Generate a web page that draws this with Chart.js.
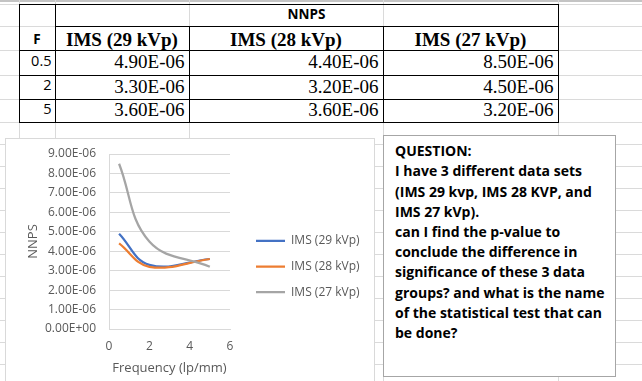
<!DOCTYPE html>
<html>
<head>
<meta charset="utf-8">
<script src="https://cdn.jsdelivr.net/npm/chart.js@4.4.1/dist/chart.umd.min.js"></script>
<style>
html,body{margin:0;padding:0;background:#fff;width:642px;height:381px;overflow:hidden;position:relative;font-family:'Open Sans',sans-serif;}
.gh{position:absolute;left:0;width:642px;height:1px;background:#dadada;}
.gv{position:absolute;top:0;height:381px;width:1px;background:#dadada;}
.bl{position:absolute;background:#000;}
.t{position:absolute;white-space:nowrap;line-height:1;color:#000;}
.serif{font-family:'Liberation Serif','Times New Roman',serif;font-size:19px;height:19px;}
.hdr{font-weight:bold;text-align:center;}
.num{text-align:right;}
.sans{font-family:'Open Sans',sans-serif;}
#chartBox{position:absolute;left:5px;top:138px;width:370px;height:260px;box-sizing:border-box;border:1px solid #d9d9d9;background:#fff;}
#cv{position:absolute;left:5px;top:138px;}
#note{position:absolute;left:383px;top:135px;width:233px;height:242px;box-sizing:border-box;border:1px solid #a6a6a6;background:#fff;
  font-family:'Open Sans',sans-serif;font-weight:bold;font-size:14px;line-height:20.2px;padding:5.2px 0 0 11px;white-space:nowrap;color:#000;}
#topband{position:absolute;left:0;top:0;width:642px;height:2px;background:#c4c4c4;}
</style>
</head>
<body>
<div id="topband"></div>
<div id="grid"></div>
<div id="table"></div>
<div id="chartBox"></div>
<canvas id="cv" width="600" height="243"></canvas>
<div id="note">QUESTION:<br>I have 3 different data sets<br>(IMS 29 kvp, IMS 28 KVP, and<br>IMS 27 kVp).<br>can I find the p-value to<br>conclude the difference in<br>significance of these 3 data<br>groups? and what is the name<br>of the statistical test that can<br>be done?</div>
<script>
// ---------------- data ----------------
const frequencies = [0.5, 2, 5];
const ims29 = [4.9e-6, 3.3e-6, 3.6e-6];
const ims28 = [4.4e-6, 3.2e-6, 3.6e-6];
const ims27 = [8.5e-6, 4.5e-6, 3.2e-6];
const seriesLabels = ['IMS (29 kVp)', 'IMS (28 kVp)', 'IMS (27 kVp)'];
const tableTitle = 'NNPS';
const firstColHeader = 'F';
const xAxisTitle = 'Frequency (lp/mm)';
const yAxisTitle = 'NNPS';
const xTickStep = 2;
const yTickStep = 1e-6;

// ---------------- helpers ----------------
function fmtE(v){
  const s = Number(v).toExponential(2);
  const [m, e] = s.split('e');
  const sign = e[0] === '-' ? '-' : '+';
  const digits = e.replace(/[+-]/, '').padStart(2, '0');
  return m + 'E' + sign + digits;
}

// ---------------- spreadsheet grid (layout) ----------------
const gridRows = [4, 26, 50, 75, 99, 122, 144, 166, 188, 210, 232, 254, 276, 298, 320, 342, 364];
const gridCols = [19, 55, 189, 383, 558];
const grid = document.getElementById('grid');
gridRows.forEach(y => { const d = document.createElement('div'); d.className = 'gh'; d.style.top = y + 'px'; grid.appendChild(d); });
gridCols.forEach(x => { const d = document.createElement('div'); d.className = 'gv'; d.style.left = x + 'px'; grid.appendChild(d); });

// ---------------- table ----------------
const tbl = document.getElementById('table');
const colEdges = [19, 55, 189, 383, 558];
const rowEdges = [4, 26, 50, 75, 99, 122];
function line(x, y, w, h){ const d = document.createElement('div'); d.className = 'bl'; Object.assign(d.style, {left: x + 'px', top: y + 'px', width: w + 'px', height: h + 'px'}); tbl.appendChild(d); }
line(colEdges[0], rowEdges[0], colEdges[4] - colEdges[0] + 1, 1);
line(colEdges[1], rowEdges[1], colEdges[4] - colEdges[1] + 1, 1);
for (let r = 2; r < rowEdges.length; r++) line(colEdges[0], rowEdges[r], colEdges[4] - colEdges[0] + 1, 1);
line(colEdges[0], rowEdges[0], 1, rowEdges[5] - rowEdges[0] + 1);
line(colEdges[1], rowEdges[0], 1, rowEdges[5] - rowEdges[0] + 1);
line(colEdges[2], rowEdges[1], 1, rowEdges[5] - rowEdges[1] + 1);
line(colEdges[3], rowEdges[1], 1, rowEdges[5] - rowEdges[1] + 1);
line(colEdges[4], rowEdges[0], 1, rowEdges[5] - rowEdges[0] + 1);

function txt(text, cls, style){ const d = document.createElement('div'); d.className = 't ' + cls; d.textContent = text; Object.assign(d.style, style); tbl.appendChild(d); return d; }
txt(tableTitle, 'sans', {left: colEdges[1] + 'px', width: (colEdges[4] - colEdges[1]) + 'px', top: '8.2px', fontSize: '13.5px', fontWeight: 'bold', textAlign: 'center'});
txt(firstColHeader, 'sans', {left: colEdges[0] + 'px', width: (colEdges[1] - colEdges[0]) + 'px', top: '33.2px', fontSize: '13.5px', fontWeight: 'bold', textAlign: 'center'});
seriesLabels.forEach((lab, i) => {
  txt(lab, 'serif hdr', {left: colEdges[i + 1] + 'px', width: (colEdges[i + 2] - colEdges[i + 1]) + 'px', top: '30.1px'});
});
const series = [ims29, ims28, ims27];
const dataTops = [52.1, 76.6, 100.1];
const fTops = [54.0, 78.0, 102.3];
frequencies.forEach((f, r) => {
  txt(String(f), 'sans num', {left: colEdges[0] + 'px', width: (colEdges[1] - colEdges[0] - 3.5) + 'px', top: fTops[r] + 'px', fontSize: '14.5px'});
  series.forEach((s, c) => {
    txt(fmtE(s[r]), 'serif num', {left: colEdges[c + 1] + 'px', width: (colEdges[c + 2] - colEdges[c + 1] - 4.5) + 'px', top: dataTops[r] + 'px'});
  });
});

// ---------------- chart ----------------
Chart.defaults.font.family = "'Open Sans', sans-serif";
Chart.defaults.color = '#595959';
const colors = ['#4472C4', '#ED7D31', '#A5A5A5'];
const toPts = ys => frequencies.map((x, i) => ({x: x, y: ys[i]}));
const drawOrder = [2, 1, 0];
const CANVAS_W = 600, PLOT_RIGHT = 225, LEGEND_ITEM_X = 251;

const legendShift = {
  id: 'legendShift',
  afterLayout(chart){
    const lg = chart.legend;
    if (!lg) return;
    const dx = LEGEND_ITEM_X - (lg.left + lg.options.labels.padding);
    lg.left += dx; lg.right += dx;
  }
};

new Chart(document.getElementById('cv'), {
  type: 'scatter',
  data: {
    datasets: series.map((s, i) => ({
      label: seriesLabels[i],
      data: toPts(s),
      showLine: true,
      borderColor: colors[i],
      backgroundColor: colors[i],
      borderWidth: 2.25,
      tension: 0.4,
      pointRadius: 0,
      pointHoverRadius: 0,
      order: drawOrder[i]
    }))
  },
  options: {
    responsive: false,
    animation: false,
    events: [],
    layout: {padding: {left: 0, top: 16, right: 0, bottom: 2}},
    plugins: {
      tooltip: {enabled: false},
      legend: {
        position: 'right',
        align: 'center',
        labels: {
          usePointStyle: true,
          pointStyle: 'line',
          pointStyleWidth: 29,
          boxHeight: 12,
          padding: 13.6,
          color: '#595959',
          font: {size: 12},
          sort: (a, b) => a.datasetIndex - b.datasetIndex
        }
      }
    },
    scales: {
      x: {
        type: 'linear', min: 0, max: 6,
        ticks: {stepSize: xTickStep, padding: 10.5, color: '#595959', font: {size: 12}},
        grid: {display: false, drawTicks: false},
        border: {display: true, color: '#d9d9d9', width: 1},
        title: {display: true, text: xAxisTitle, color: '#595959', font: {size: 13}, padding: {top: 0, bottom: 3.2}},
        afterFit: s => { s.height = 50; s.paddingLeft = 0; s.paddingRight = CANVAS_W - PLOT_RIGHT; }
      },
      y: {
        type: 'linear', min: 0, max: 9e-6,
        ticks: {stepSize: yTickStep, padding: 13, color: '#595959', font: {size: 12}, callback: v => fmtE(v)},
        grid: {color: '#d9d9d9', drawTicks: false, lineWidth: 1},
        border: {display: true, color: '#d9d9d9', width: 1},
        title: {display: true, text: yAxisTitle, color: '#595959', font: {size: 13}, padding: {top: 20, bottom: 0}},
        afterFit: s => { s.width = 104; s.paddingTop = 0; s.paddingBottom = 0; }
      }
    }
  },
  plugins: [legendShift]
});
</script>
</body>
</html>
